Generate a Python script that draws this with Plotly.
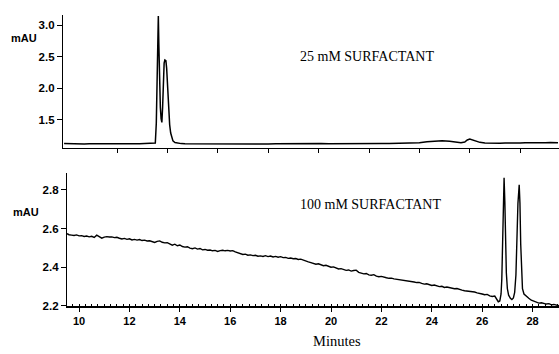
import plotly.graph_objects as go

# ---------------- data ----------------
# Top chromatogram (25 mM surfactant), minutes / mAU
top_minutes = [9.90, 10.10, 10.30, 10.50, 10.70, 10.90, 11.10, 11.30, 11.50, 11.70, 11.90, 12.00,
               12.10, 12.30, 12.50, 12.70, 12.90, 13.10, 13.30, 13.45, 13.52, 13.56, 13.59, 13.62,
               13.64, 13.66, 13.69, 13.72, 13.75, 13.78, 13.81, 13.84, 13.87, 13.90, 13.94, 13.97,
               14.01, 14.05, 14.09, 14.13, 14.17, 14.22, 14.30, 14.40, 14.55, 14.70, 15.0, 15.3,
               15.6, 15.9, 16.2, 16.5, 16.8, 17.1, 17.4, 17.7, 18.0, 18.3, 18.6, 18.9, 19.2, 19.5,
               19.8, 20.1, 20.4, 20.7, 21.0, 21.3, 21.6, 21.9, 22.2, 22.5, 22.8, 23.1, 23.4, 23.7,
               24.0, 24.3, 24.6, 24.9, 25.2, 25.45, 25.65, 25.8, 25.9, 26.0, 26.15, 26.4, 26.6,
               26.8, 27.0, 27.2, 27.4, 27.6, 27.8, 28.0, 28.2, 28.4, 28.6, 28.8, 29.0, 29.2, 29.5]
top_mau = [1.125, 1.121, 1.119, 1.120, 1.117, 1.119, 1.118, 1.120, 1.119, 1.121, 1.118, 1.124,
           1.119, 1.121, 1.120, 1.122, 1.121, 1.123, 1.122, 1.124, 1.13, 1.45, 2.30, 3.00,
           3.15, 2.70, 2.05, 1.70, 1.52, 1.46, 1.70, 2.15, 2.40, 2.45, 2.44, 2.32,
           2.00, 1.65, 1.42, 1.29, 1.21, 1.165, 1.140, 1.128, 1.122, 1.120, 1.119, 1.117,
           1.119, 1.118, 1.120, 1.118, 1.119, 1.121, 1.118, 1.119, 1.117, 1.119, 1.121, 1.119,
           1.120, 1.118, 1.120, 1.122, 1.119, 1.121, 1.120, 1.122, 1.121, 1.123, 1.121, 1.123,
           1.122, 1.124, 1.123, 1.127, 1.135, 1.150, 1.163, 1.166, 1.158, 1.142, 1.136, 1.148,
           1.180, 1.196, 1.172, 1.142, 1.132, 1.128, 1.131, 1.127, 1.133, 1.130, 1.135, 1.133,
           1.137, 1.135, 1.138, 1.136, 1.137, 1.139, 1.137]

# Bottom chromatogram (100 mM surfactant), minutes / mAU
bottom_minutes = [9.52, 9.60, 9.70, 9.80, 9.90, 10.00, 10.10, 10.20, 10.30, 10.40, 10.50, 10.60,
                  10.70, 10.80, 10.90, 11.00, 11.10, 11.20, 11.30, 11.40, 11.50, 11.60, 11.70,
                  11.80, 11.90, 12.00, 12.10, 12.20, 12.30, 12.40, 12.50, 12.60, 12.70, 12.80,
                  12.90, 13.00, 13.10, 13.20, 13.30, 13.40, 13.50, 13.60, 13.70, 13.80, 13.90,
                  14.00, 14.10, 14.20, 14.30, 14.40, 14.50, 14.60, 14.70, 14.80, 14.90, 15.00,
                  15.10, 15.20, 15.30, 15.40, 15.50, 15.60, 15.70, 15.80, 15.90, 16.00, 16.10,
                  16.20, 16.30, 16.40, 16.50, 16.60, 16.70, 16.80, 16.90, 17.00, 17.10, 17.20,
                  17.30, 17.40, 17.50, 17.60, 17.70, 17.80, 17.90, 18.00, 18.10, 18.20, 18.30,
                  18.40, 18.50, 18.60, 18.70, 18.80, 18.90, 19.00, 19.10, 19.20, 19.30, 19.40,
                  19.50, 19.60, 19.70, 19.80, 19.90, 20.00, 20.10, 20.20, 20.30, 20.40, 20.50,
                  20.60, 20.70, 20.80, 20.90, 21.00, 21.10, 21.20, 21.30, 21.40, 21.50, 21.60,
                  21.70, 21.80, 21.90, 22.00, 22.10, 22.20, 22.30, 22.40, 22.50, 22.60, 22.70,
                  22.80, 22.90, 23.00, 23.10, 23.20, 23.30, 23.40, 23.50, 23.60, 23.70, 23.80,
                  23.90, 24.00, 24.10, 24.20, 24.30, 24.40, 24.50, 24.60, 24.70, 24.80, 24.90,
                  25.00, 25.10, 25.20, 25.30, 25.40, 25.50, 25.60, 25.70, 25.80, 25.90, 26.00,
                  26.10, 26.20, 26.30, 26.40, 26.50, 26.58, 26.64, 26.70, 26.75, 26.78, 26.81,
                  26.84, 26.87, 26.90, 26.93, 26.96, 27.00, 27.05, 27.12, 27.18, 27.24, 27.29,
                  27.34, 27.38, 27.42, 27.47, 27.50, 27.53, 27.56, 27.60, 27.66, 27.75, 27.85,
                  27.95, 28.05, 28.15, 28.25, 28.35, 28.45, 28.55, 28.65, 28.75, 28.85, 28.95, 29.05]
bottom_mau = [2.574, 2.568, 2.566, 2.564, 2.567, 2.562, 2.563, 2.559, 2.561, 2.557, 2.560, 2.554,
              2.566, 2.558, 2.550, 2.556, 2.558, 2.556, 2.557, 2.553, 2.555, 2.550, 2.546,
              2.549, 2.544, 2.547, 2.541, 2.544, 2.540, 2.543, 2.538, 2.540, 2.536, 2.537,
              2.531, 2.528, 2.534, 2.536, 2.529, 2.526, 2.527, 2.520, 2.514, 2.519, 2.511,
              2.515, 2.507, 2.504, 2.506, 2.499, 2.496, 2.500, 2.494, 2.497, 2.490, 2.492,
              2.488, 2.489, 2.485, 2.487, 2.482, 2.486, 2.488, 2.485, 2.487, 2.484, 2.486,
              2.479, 2.474, 2.470, 2.466, 2.468, 2.462, 2.464, 2.460, 2.462, 2.457, 2.459,
              2.456, 2.460, 2.455, 2.458, 2.453, 2.456, 2.452, 2.455, 2.450, 2.451, 2.446,
              2.448, 2.444, 2.445, 2.440, 2.442, 2.436, 2.431, 2.428, 2.424, 2.420, 2.416,
              2.418, 2.411, 2.408, 2.410, 2.403, 2.400, 2.402, 2.395, 2.391, 2.393, 2.388,
              2.384, 2.386, 2.380, 2.383, 2.385, 2.374, 2.371, 2.366, 2.368, 2.361, 2.359,
              2.362, 2.354, 2.351, 2.353, 2.348, 2.346, 2.343, 2.344, 2.340, 2.338, 2.339,
              2.334, 2.332, 2.333, 2.328, 2.326, 2.324, 2.321, 2.322, 2.317, 2.313, 2.315,
              2.309, 2.306, 2.308, 2.302, 2.300, 2.302, 2.296, 2.298, 2.294, 2.292, 2.289,
              2.290, 2.284, 2.282, 2.279, 2.277, 2.275, 2.276, 2.272, 2.268, 2.266, 2.262,
              2.258, 2.260, 2.252, 2.249, 2.251, 2.236, 2.222, 2.226, 2.262, 2.34, 2.50,
              2.72, 2.862, 2.74, 2.52, 2.37, 2.29, 2.256, 2.240, 2.233, 2.242, 2.27,
              2.36, 2.55, 2.73, 2.826, 2.73, 2.52, 2.37, 2.29, 2.262, 2.250, 2.240,
              2.230, 2.224, 2.221, 2.215, 2.217, 2.212, 2.210, 2.212, 2.206, 2.208, 2.203, 2.201]

top_yticks = [1.5, 2.0, 2.5, 3.0]
top_yticklabels = ["1.5", "2.0", "2.5", "3.0"]
top_xticks = [12, 14, 16, 18, 20, 22, 24, 26, 28]
bottom_yticks = [2.2, 2.4, 2.6, 2.8]
bottom_yticklabels = ["2.2", "2.4", "2.6", "2.8"]
bottom_xticks = [10, 12, 14, 16, 18, 20, 22, 24, 26, 28]
bottom_xticklabels = ["10", "12", "14", "16", "18", "20", "22", "24", "26", "28"]

# ---------------- figure ----------------
W, H = 559, 354
ML, MR, MT, MB = 63, 0, 15, 47.5
PW, PH = W - ML - MR, H - MT - MB


def px(x):
    return (x - ML) / PW


def py(y):
    return (H - MB - y) / PH


fig = go.Figure()
fig.add_trace(go.Scatter(x=top_minutes, y=top_mau, mode="lines", xaxis="x2", yaxis="y2",
                         line=dict(color="black", width=1.5), showlegend=False))
fig.add_trace(go.Scatter(x=bottom_minutes, y=bottom_mau, mode="lines", xaxis="x", yaxis="y",
                         line=dict(color="black", width=1.4), showlegend=False))

tickfont = dict(family="Liberation Sans, Arial", size=11.5, color="black", weight="bold")
serif = dict(family="Liberation Serif, Times New Roman", size=14, color="black")

fig.update_layout(
    width=W, height=H,
    margin=dict(l=ML, r=MR, t=MT, b=MB, pad=0),
    paper_bgcolor="white", plot_bgcolor="white",
    xaxis=dict(domain=[px(67), 1], range=[9.52, 29.05], tickvals=bottom_xticks,
               ticktext=bottom_xticklabels, ticks="outside", ticklen=4, tickwidth=1,
               tickcolor="black", showline=True, linecolor="black", linewidth=1.6,
               showgrid=False, zeroline=False, tickfont=dict(tickfont, size=11),
               minor=dict(dtick=0.25, ticks="inside", ticklen=2, tickcolor="black",
                          tickwidth=1, showgrid=False),
               anchor="y"),
    yaxis=dict(domain=[0, py(173)], range=[2.2, 2.2 + (306.5 - 173) / 194],
               tickvals=bottom_yticks, ticktext=bottom_yticklabels, ticks="outside",
               ticklen=5, tickwidth=1, tickcolor="black", showline=True, linecolor="black",
               linewidth=1.3, showgrid=False, zeroline=False, tickfont=tickfont,
               anchor="x"),
    xaxis2=dict(domain=[0, 1], range=[9.857, 29.54], tickvals=top_xticks, showticklabels=False,
                ticks="outside", ticklen=4, tickwidth=1, tickcolor="black", showline=True,
                linecolor="black", linewidth=0.8, showgrid=False, zeroline=False,
                anchor="y2"),
    yaxis2=dict(domain=[py(148), 1], range=[1.056, 3.165], tickvals=top_yticks,
                ticktext=top_yticklabels, ticks="outside", ticklen=5, tickwidth=1,
                tickcolor="black", showline=True, linecolor="black", linewidth=1.3,
                showgrid=False, zeroline=False, tickfont=tickfont, anchor="x2"),
)

ann_font = dict(family="Liberation Sans, Arial", size=11, color="black", weight="bold")
fig.add_annotation(text="mAU", x=px(24), y=py(38), xref="paper", yref="paper",
                   showarrow=False, font=ann_font, xanchor="center", yanchor="middle")
fig.add_annotation(text="mAU", x=px(25.5), y=py(212), xref="paper", yref="paper",
                   showarrow=False, font=ann_font, xanchor="center", yanchor="middle")
fig.add_annotation(text="25 mM SURFACTANT", x=px(367), y=py(57), xref="paper", yref="paper",
                   showarrow=False, font=serif, xanchor="center", yanchor="middle")
fig.add_annotation(text="100 mM SURFACTANT", x=px(370), y=py(205), xref="paper", yref="paper",
                   showarrow=False, font=serif, xanchor="center", yanchor="middle")
fig.add_annotation(text="Minutes", x=px(337), y=py(342), xref="paper", yref="paper",
                   showarrow=False, font=dict(serif, size=14.5), xanchor="center",
                   yanchor="middle")

fig.write_html("out.html")
